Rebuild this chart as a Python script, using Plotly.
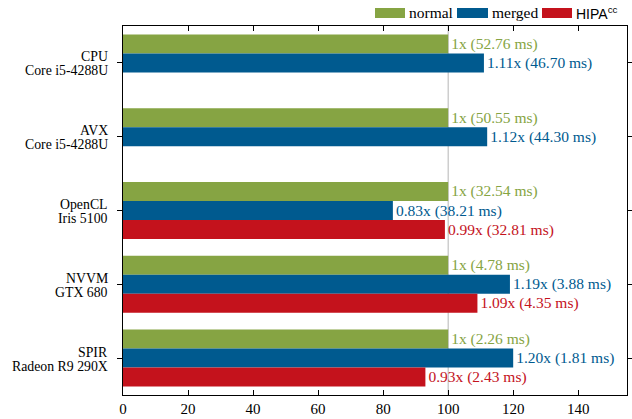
import plotly.graph_objects as go

cat_line1 = ["CPU", "AVX", "OpenCL", "NVVM", "SPIR"]
cat_line2 = ["Core i5-4288U", "Core i5-4288U", "Iris 5100", "GTX 680", "Radeon R9 290X"]
categories = [f"{a} {b}" for a, b in zip(cat_line1, cat_line2)]
series_names = ["normal", "merged", "HIPA<sup>cc</sup>"]
normal_speedup = [1.00, 1.00, 1.00, 1.00, 1.00]
merged_speedup = [1.11, 1.12, 0.83, 1.19, 1.20]
hipa_speedup = [None, None, 0.99, 1.09, 0.93]
normal_ms = [52.76, 50.55, 32.54, 4.78, 2.26]
merged_ms = [46.70, 44.30, 38.21, 3.88, 1.81]
hipa_ms = [None, None, 32.81, 4.35, 2.43]
x_ticks = [0, 20, 40, 60, 80, 100, 120, 140]

colors = ["#86a443", "#005a8f", "#c4121c"]
SERIF = "Liberation Serif, Times New Roman, serif"

fig = go.Figure()
data = [(normal_speedup, normal_ms, True), (merged_speedup, merged_ms, False), (hipa_speedup, hipa_ms, False)]
for (sp, ms, first), name, c in zip(data, series_names, colors):
    ys, xs, texts = [], [], []
    for cat, s, m in zip(categories, sp, ms):
        if s is None:
            continue
        ys.append(cat)
        xs.append(s * 100)
        texts.append(f"1x ({m:.2f} ms)" if first else f"{s:.2f}x ({m:.2f} ms)")
    fig.add_trace(go.Bar(
        y=ys, x=xs, orientation="h",
        name=name, marker=dict(color=c, line=dict(width=0)),
        text=texts, textposition="outside", constraintext="none",
        textfont=dict(family=SERIF, size=15.5, color=c), cliponaxis=False,
        showlegend=False,
    ))

# 100% reference line
fig.add_shape(type="line", xref="x", yref="paper", x0=100, x1=100, y0=0, y1=1,
              line=dict(color="#b5b5b5", width=1), layer="below")

# category labels (two lines each, tight spacing)
for cat, a, b in zip(categories, cat_line1, cat_line2):
    for txt, shift in ((a, 6), (b, -8)):
        fig.add_annotation(xref="paper", yref="y", x=0, y=cat, text=txt, showarrow=False,
                           xanchor="right", yanchor="middle", xshift=-13, yshift=shift,
                           font=dict(family=SERIF, size=13.8, color="black"))

# manual legend (pixel coords -> paper)
L, R, T, B = 123, 627, 26, 395
W, H = R - L, B - T
def px(x): return (x - L) / W
def py(y): return (B - y) / H
legend_items = [(375, 405, 408), (457, 488, 491), (542, 572, 575)]
for (x0, x1, tx), name, c in zip(legend_items, series_names, colors):
    fig.add_shape(type="rect", xref="paper", yref="paper", x0=px(x0), x1=px(x1),
                  y0=py(18), y1=py(8), fillcolor=c, line=dict(width=0))
    fam = "Liberation Sans, Arial, sans-serif" if "HIPA" in name else SERIF
    fig.add_annotation(xref="paper", yref="paper", x=px(tx - 1), y=py(13), text=name,
                       showarrow=False, xanchor="left", yanchor="middle",
                       font=dict(family=fam, size=15.5 if fam == SERIF else 14, color="black"))

fig.update_layout(
    width=632, height=419,
    margin=dict(l=L, r=632 - R, t=T, b=419 - B),
    paper_bgcolor="white", plot_bgcolor="white",
    barmode="group", bargap=0.227, bargroupgap=0,
    font=dict(family=SERIF, size=14, color="black"),
)
fig.update_xaxes(range=[0, 155], tickvals=x_ticks, ticks="inside", ticklen=5,
                 tickcolor="black", showline=True, linecolor="black", linewidth=1,
                 mirror="ticks", showgrid=False, zeroline=False, automargin=False,
                 tickfont=dict(family=SERIF, size=15))
fig.update_yaxes(categoryorder="array", categoryarray=categories, range=[4.5, -0.5],
                 ticks="outside", ticklen=5, tickcolor="black", showline=True,
                 linecolor="black", linewidth=1, mirror="ticks", showgrid=False,
                 showticklabels=False, automargin=False)

fig.write_html("out.html", config={"displayModeBar": False},
               post_script="document.body.style.margin='0px';document.body.style.overflow='hidden';")
